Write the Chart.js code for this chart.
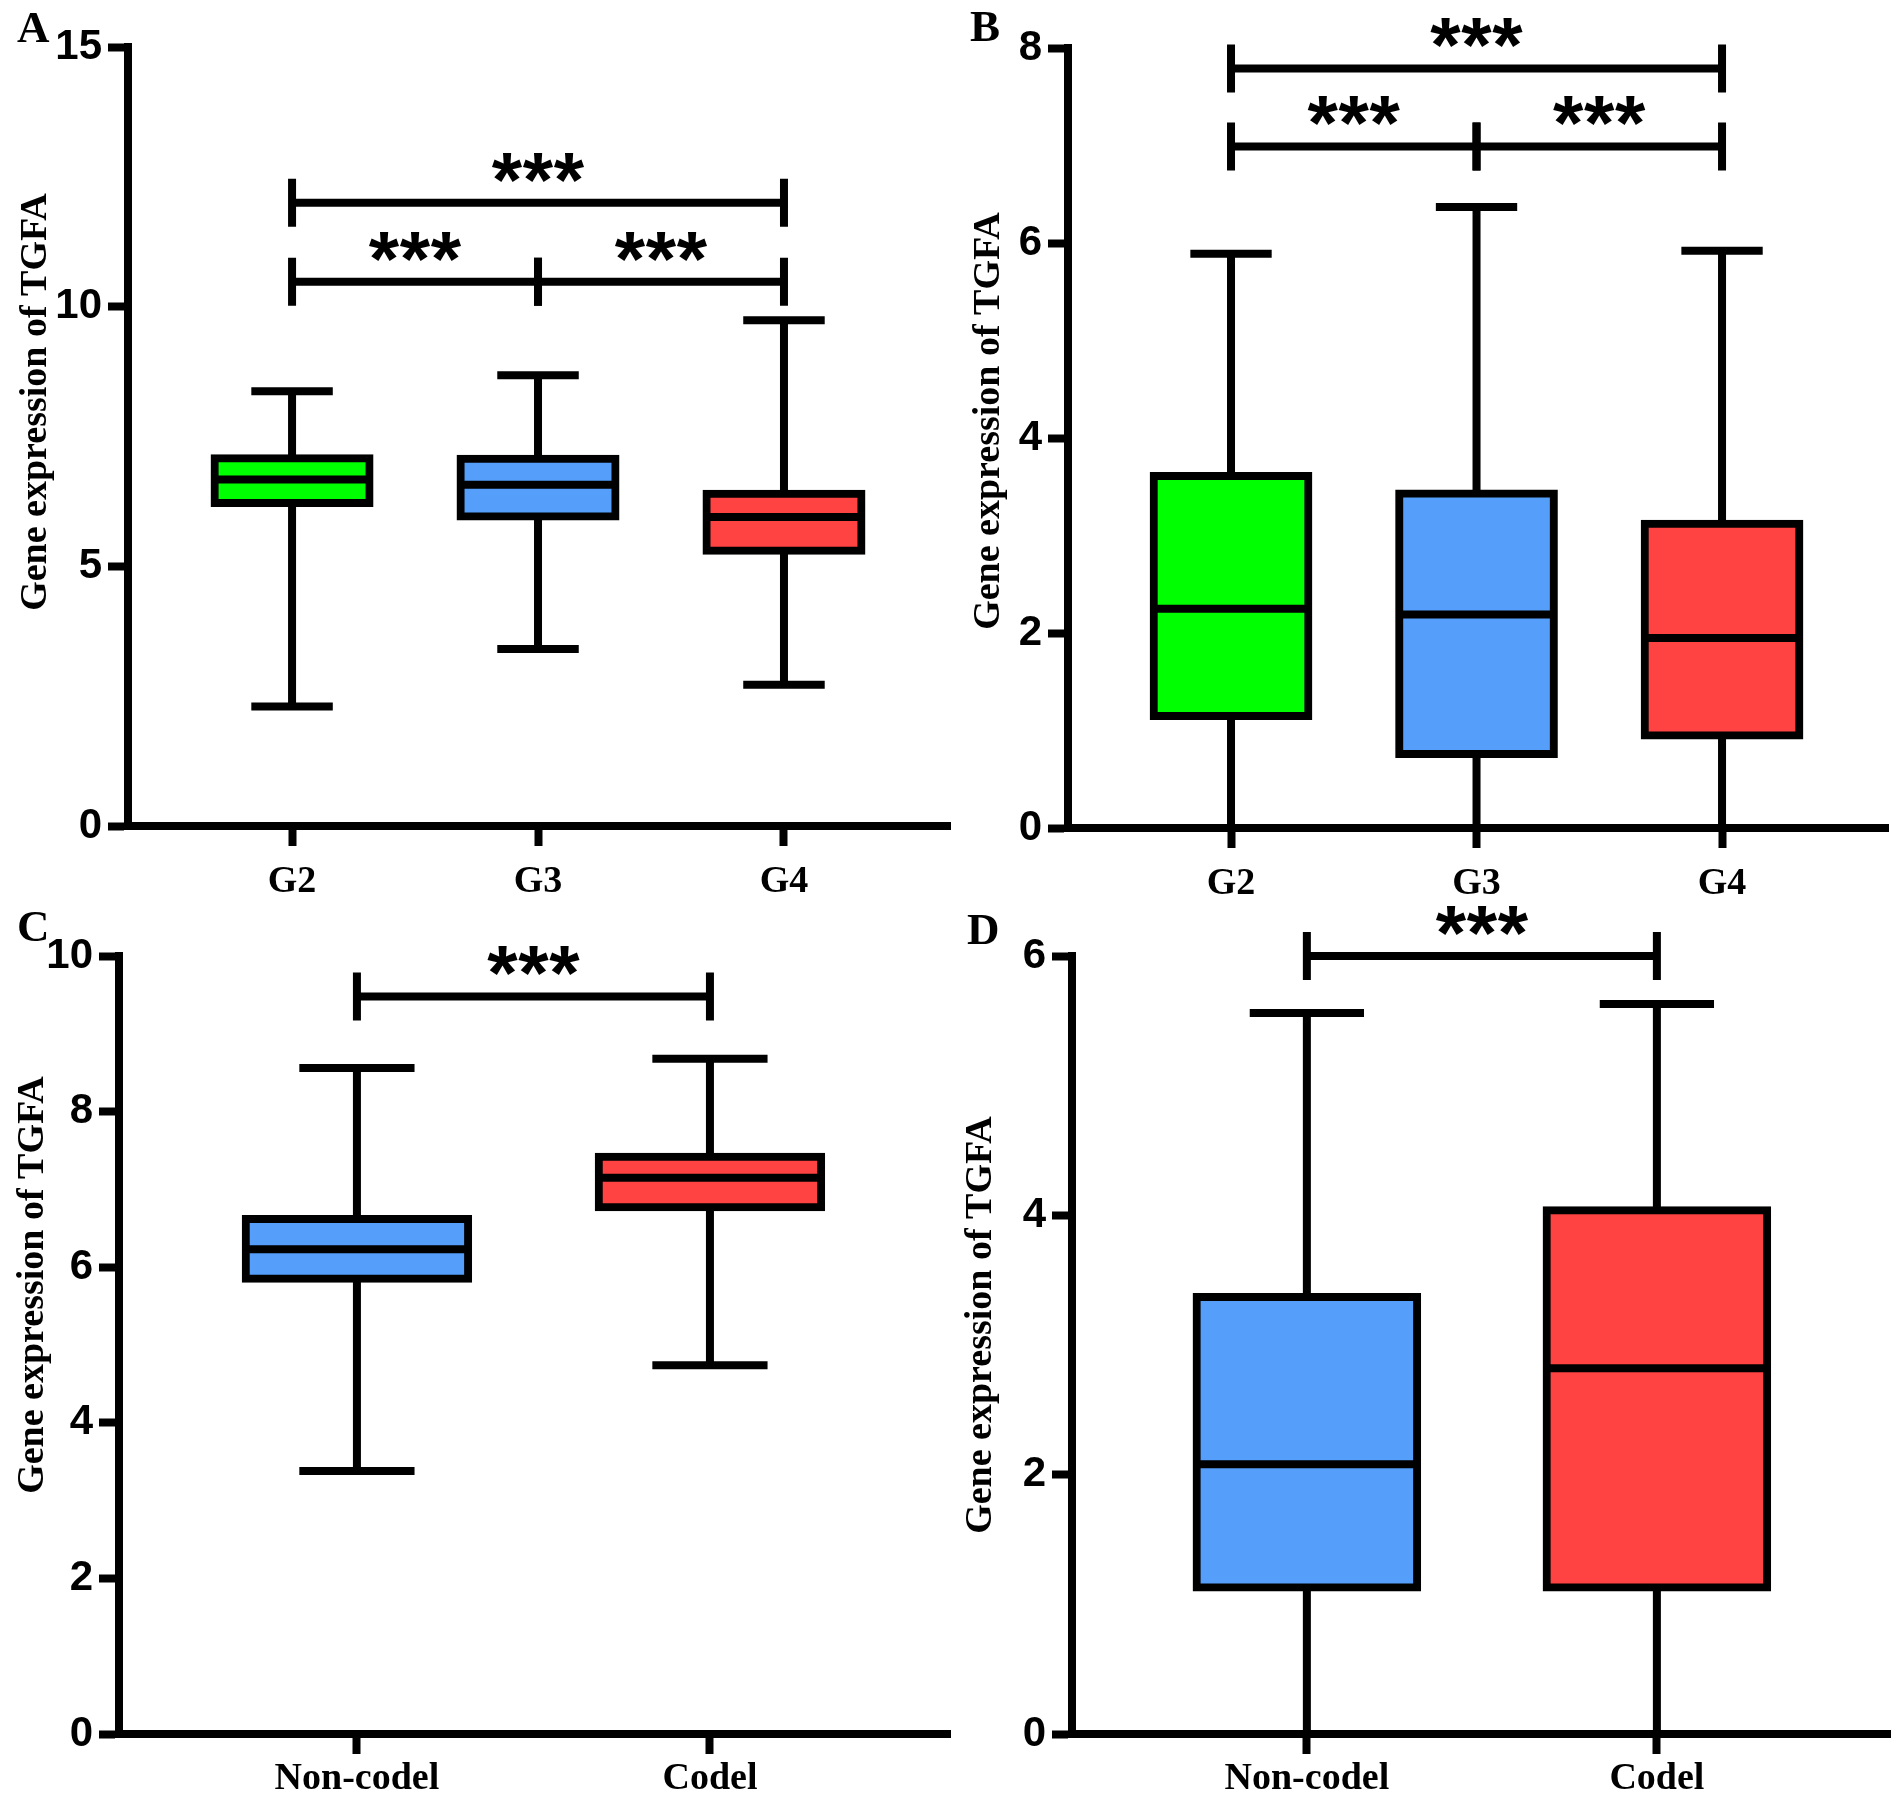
<!DOCTYPE html>
<html>
<head>
<meta charset="utf-8">
<script src="https://cdn.jsdelivr.net/npm/chart.js@4.4.0/dist/chart.umd.min.js"></script>
<style>
  body { margin: 0; background: #fff; }
  #wrap { position: relative; width: 1902px; height: 1807px; }
  .panel { position: absolute; }
  .tag { position: absolute; font: bold 45px "Liberation Serif", "Times New Roman", serif; line-height: 45px; color: #000; }
</style>
</head>
<body>
<div id="wrap">
  <div class="panel" style="left:0;top:0;width:951px;height:903px"><canvas id="chartA"></canvas></div>
  <div class="panel" style="left:951px;top:0;width:951px;height:903px"><canvas id="chartB"></canvas></div>
  <div class="panel" style="left:0;top:890px;width:951px;height:917px"><canvas id="chartC"></canvas></div>
  <div class="panel" style="left:951px;top:890px;width:951px;height:917px"><canvas id="chartD"></canvas></div>
  <div class="tag" style="left:17px;top:5px">A</div>
  <div class="tag" style="left:970px;top:4px">B</div>
  <div class="tag" style="left:17px;top:904px">C</div>
  <div class="tag" style="left:967px;top:907px">D</div>
</div>
<script>
// groups
const gradeGroups = ['G2', 'G3', 'G4'];
const codelGroups = ['Non-codel', 'Codel'];
const gradeColors = ['#00FF00', '#559FFB', '#FF4242'];
const codelColors = ['#559FFB', '#FF4242'];
const yTitle = 'Gene expression of TGFA';

// A: grade, first cohort
const aMin = [2.30, 3.41, 2.72];
const aQ1 = [6.22, 5.96, 5.30];
const aMed = [6.67, 6.57, 5.95];
const aQ3 = [7.08, 7.07, 6.40];
const aMax = [8.37, 8.68, 9.74];
const aTicks = [0, 5, 10, 15];
const aSig = [[0, 1, 10.48], [1, 2, 10.48], [0, 2, 12.0]];

// B: grade, second cohort
const bMin = [0, 0, 0];
const bQ1 = [1.15, 0.76, 0.95];
const bMed = [2.25, 2.19, 1.95];
const bQ3 = [3.61, 3.43, 3.12];
const bMax = [5.89, 6.37, 5.92];
const bTicks = [0, 2, 4, 6, 8];
const bSig = [[0, 1, 6.99], [1, 2, 6.99], [0, 2, 7.79]];

// C: 1p/19q, first cohort
const cMin = [3.38, 4.74];
const cQ1 = [5.85, 6.77];
const cMed = [6.23, 7.15];
const cQ3 = [6.62, 7.42];
const cMax = [8.56, 8.68];
const cTicks = [0, 2, 4, 6, 8, 10];
const cSig = [[0, 1, 9.48]];

// D: 1p/19q, second cohort
const dMin = [0, 0];
const dQ1 = [1.13, 1.13];
const dMed = [2.08, 2.82];
const dQ3 = [3.37, 4.04];
const dMax = [5.56, 5.63];
const dTicks = [0, 2, 4, 6];
const dSig = [[0, 1, 6.0]];

const sansBold = "'Liberation Sans', Arial, sans-serif";
const serifBold = "'Liberation Serif', 'Times New Roman', serif";

function boxChart(id, groups, colors, st, ticks, sig, lay) {
  const parts = {
    id: 'boxParts',
    afterDatasetsDraw(chart) {
      const ctx = chart.ctx;
      const xs = chart.scales.x, ys = chart.scales.y;
      const bars = chart.getDatasetMeta(0).data;
      ctx.save();
      ctx.strokeStyle = '#000';
      ctx.lineWidth = 8;
      ctx.lineCap = 'butt';
      bars.forEach((bar, i) => {
        const x = bar.x, half = bar.width / 2;
        const cap = (bar.width + 8) / 4;
        const yq1 = ys.getPixelForValue(st.q1[i]);
        const yq3 = ys.getPixelForValue(st.q3[i]);
        const ymin = ys.getPixelForValue(st.min[i]);
        const ymax = ys.getPixelForValue(st.max[i]);
        const ymed = ys.getPixelForValue(st.med[i]);
        ctx.beginPath();
        ctx.moveTo(x, yq3); ctx.lineTo(x, ymax);
        ctx.moveTo(x - cap, ymax); ctx.lineTo(x + cap, ymax);
        ctx.moveTo(x, yq1); ctx.lineTo(x, ymin);
        ctx.moveTo(x - cap, ymin); ctx.lineTo(x + cap, ymin);
        ctx.moveTo(x - half, ymed); ctx.lineTo(x + half, ymed);
        ctx.stroke();
      });
      // significance brackets
      sig.forEach(([a, b, lvl]) => {
        const x1 = xs.getPixelForValue(a + 1), x2 = xs.getPixelForValue(b + 1);
        const y = ys.getPixelForValue(lvl);
        ctx.beginPath();
        ctx.moveTo(x1, y); ctx.lineTo(x2, y);
        ctx.moveTo(x1, y - 24); ctx.lineTo(x1, y + 24);
        ctx.moveTo(x2, y - 24); ctx.lineTo(x2, y + 24);
        ctx.stroke();
        ctx.fillStyle = '#000';
        ctx.font = 'bold 78px ' + sansBold;
        ctx.textAlign = 'center';
        ctx.textBaseline = 'alphabetic';
        const mid = (x1 + x2) / 2;
        for (let k = -1; k <= 1; k++) ctx.fillText('*', mid + k * 31, y + 4);
      });
      // y title
      ctx.translate(lay.titleX, lay.titleY);
      ctx.rotate(-Math.PI / 2);
      ctx.font = 'bold 38px ' + serifBold;
      ctx.fillStyle = '#000';
      ctx.textAlign = 'center';
      ctx.textBaseline = 'middle';
      ctx.fillText(yTitle, 0, 0);
      ctx.restore();
    }
  };

  const axisGrid = { offset: false, drawOnChartArea: false, drawTicks: true, tickLength: 20, tickWidth: 8, tickColor: '#000', color: '#000' };

  return new Chart(document.getElementById(id), {
    type: 'bar',
    data: {
      datasets: [{
        data: groups.map((g, i) => ({ x: i + 1, y: [st.q1[i], st.q3[i]] })),
        backgroundColor: colors,
        borderColor: '#000',
        borderWidth: 8,
        borderSkipped: false,
        inflateAmount: 4,
        barPercentage: 0.63,
        categoryPercentage: 1
      }]
    },
    options: {
      responsive: true,
      maintainAspectRatio: false,
      animation: false,
      layout: { padding: { top: lay.top, right: lay.right, bottom: 0, left: 0 } },
      plugins: { legend: { display: false }, tooltip: { enabled: false } },
      scales: {
        x: {
          type: 'linear',
          offset: false,
          min: lay.xMin,
          max: lay.xMax,
          afterBuildTicks: s => { s.ticks = groups.map((g, i) => ({ value: i + 1 })); },
          afterFit: s => { s.height = lay.xh; },
          grid: axisGrid,
          border: { color: '#000', width: 8 },
          ticks: {
            autoSkip: false, maxRotation: 0, padding: lay.xPad, color: '#000',
            font: { family: serifBold, size: 38, weight: 'bold' },
            callback: v => groups[v - 1]
          }
        },
        y: {
          min: ticks[0],
          max: ticks[ticks.length - 1],
          afterBuildTicks: s => { s.ticks = ticks.map(v => ({ value: v })); },
          afterFit: s => { s.width = lay.left; },
          grid: axisGrid,
          border: { color: '#000', width: 8 },
          ticks: {
            padding: 6, color: '#000',
            font: { family: sansBold, size: 42, weight: 'bold' }
          }
        }
      }
    },
    plugins: [parts]
  });
}

boxChart('chartA', gradeGroups, gradeColors,
  { min: aMin, q1: aQ1, med: aMed, q3: aQ3, max: aMax }, aTicks, aSig,
  { left: 128, top: 47, right: 1, xh: 77, xMin: 0.333, xMax: 3.675, xPad: 13, titleX: 36, titleY: 402 });
boxChart('chartB', gradeGroups, gradeColors,
  { min: bMin, q1: bQ1, med: bMed, q3: bQ3, max: bMax }, bTicks, bSig,
  { left: 117, top: 48, right: 14, xh: 75, xMin: 0.336, xMax: 3.676, xPad: 13, titleX: 38, titleY: 421 });
boxChart('chartC', codelGroups, codelColors,
  { min: cMin, q1: cQ1, med: cMed, q3: cQ3, max: cMax }, cTicks, cSig,
  { left: 119, top: 66, right: 1, xh: 73, xMin: 0.326, xMax: 2.68, xPad: 2, titleX: 33, titleY: 395 });
boxChart('chartD', codelGroups, codelColors,
  { min: dMin, q1: dQ1, med: dMed, q3: dQ3, max: dMax }, dTicks, dSig,
  { left: 121, top: 66, right: 12, xh: 73, xMin: 0.329, xMax: 2.666, xPad: 2, titleX: 30, titleY: 435 });
</script>
</body>
</html>
